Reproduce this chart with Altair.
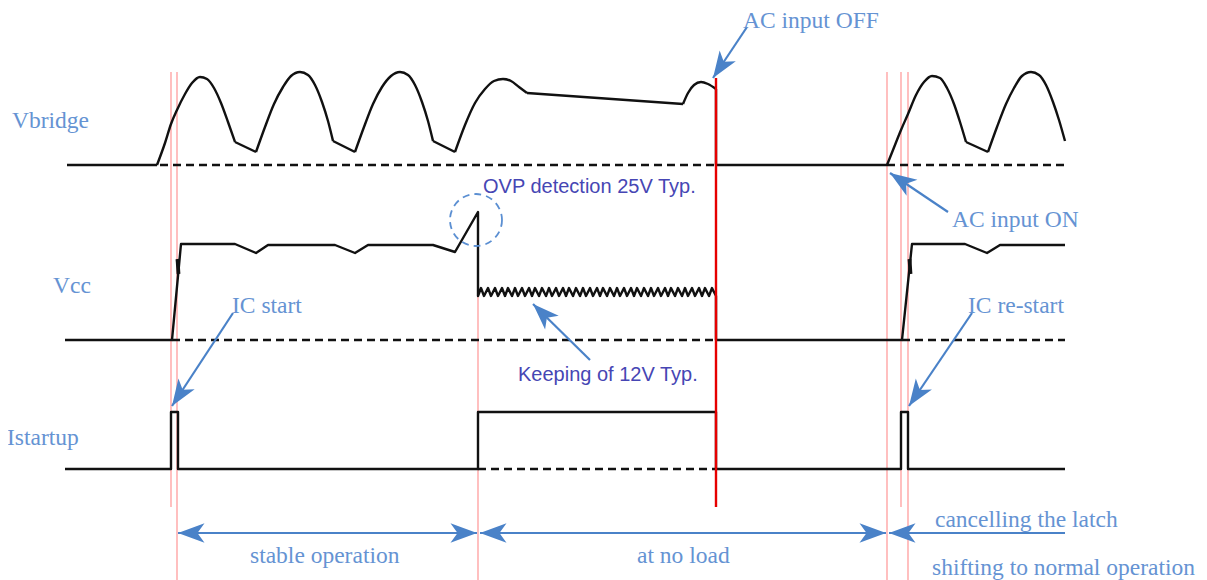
import altair as alt
import pandas as pd
import numpy as np

# ---------------- data (picture pixels) ----------------
# Vbridge: rounded half-wave arcs (smooth) joined by straight discharge segments
arc1_x = [157, 165, 171, 177, 185, 192, 200, 207, 214, 221, 228, 235]
arc1_y = [165, 143, 124, 110, 94, 83, 77, 79, 88, 103, 122, 142]
arc2_x = [256, 265, 274, 283, 291, 300, 308, 315, 322, 328, 333]
arc2_y = [152, 127, 104, 87, 76, 72, 75, 85, 102, 121, 141]
arc3_x = [355, 364, 373, 382, 391, 400, 408, 415, 422, 428, 433]
arc3_y = [152, 127, 104, 87, 76, 72, 75, 85, 102, 121, 141]
arc4_x = [455, 465, 475, 485, 494, 503, 511, 519, 527]
arc4_y = [152, 125, 103, 89, 81, 79, 81, 87, 93]
arc5_x = [683, 688, 694, 701, 708, 716]
arc5_y = [104, 93, 85, 82, 84, 89]
arc6_x = [887, 893, 901, 908, 916, 924, 932, 940, 947, 954, 960, 966]
arc6_y = [165, 150, 130, 114, 95, 82, 76, 78, 88, 104, 122, 142]
arc7_x = [988, 997, 1006, 1014, 1022, 1031, 1039, 1046, 1053, 1059, 1065]
arc7_y = [152, 127, 104, 88, 76, 72, 75, 85, 102, 120, 141]
# straight parts of Vbridge
vbl_x = [[67, 157], [235, 256], [333, 355], [433, 455], [527, 683], [716, 716, 887], [966, 988]]
vbl_y = [[165, 165], [142, 152], [141, 152], [141, 152], [93, 104], [89, 165, 165], [142, 152]]

# Vcc waveform
vcc1_x = [65, 172, 181, 235, 256, 268, 335, 355, 368, 433, 455, 478, 478]
vcc1_y = [340, 340, 244, 244, 253, 245, 245, 253, 245, 245, 252, 212, 296]
zig_low_x = [478, 484, 491, 498, 505, 512, 518, 525, 532, 539, 546, 552, 559, 566, 573, 580, 586, 593,
             600, 607, 614, 620, 627, 634, 641, 648, 654, 661, 668, 675, 682, 688, 695, 702, 709, 716]
zig_high_x = [481, 488, 495, 502, 508, 515, 522, 529, 535, 542, 549, 556, 563, 569, 576, 583, 590, 597,
              603, 610, 617, 624, 631, 637, 644, 651, 658, 665, 671, 678, 685, 692, 699, 705, 712]
zig_low_y = 296
zig_high_y = 288
vcc2_x = [716, 716, 902, 912, 965, 987, 1000, 1065]
vcc2_y = [296, 340, 340, 244, 244, 253, 245, 245]

# small thick spurs on Vcc rising edges
spur1_x = [177.5, 178.5]
spur1_y = [259, 274]
spur2_x = [909.5, 910.5]
spur2_y = [259, 274]

# Istartup waveform
ist_x = [65, 171, 171, 178, 178, 478, 478, 716, 716, 901, 901, 908, 908, 1065]
ist_y = [469, 469, 412, 412, 469, 469, 412, 412, 469, 469, 412, 412, 469, 469]

# dashed reference levels
dash_start = [160, 887, 172, 902, 478]
dash_end = [716, 1065, 716, 1065, 716]
dash_y = [165, 165, 340, 340, 469]

# red timing markers
red_x = [171, 177, 478, 887, 901, 908]
red_top = [72, 72, 212, 72, 72, 72]
red_bottom = [507, 580, 580, 580, 507, 580]
off_x = [716]
off_top = [78]
off_bottom = [507]

# blue arrow shafts (tail -> tip)
arr_x1 = [747, 948, 233, 972, 590, 178, 480, 889]
arr_y1 = [27, 212, 313, 313, 360, 533, 533, 533]
arr_x2 = [713, 890, 172, 909, 533, 477, 886, 1065]
arr_y2 = [78, 173, 406, 406, 304, 533, 533, 533]

# arrow heads: tip position and the point the arrow comes from
head_x = [713, 890, 172, 909, 533, 178, 477, 480, 886, 889]
head_y = [78, 173, 406, 406, 304, 533, 533, 533, 533, 533]
head_from_x = [747, 948, 233, 972, 590, 477, 178, 886, 480, 1065]
head_from_y = [27, 212, 313, 313, 360, 533, 533, 533, 533, 533]

# dashed circle around OVP peak
circ_x = [476]
circ_y = [220]

# labels
serif_text = ["Vbridge", "Vcc", "Istartup", "IC start", "IC re-start", "AC input OFF", "AC input ON",
              "stable operation", "at no load", "cancelling the latch", "shifting to normal operation"]
serif_x = [12, 53, 7, 232, 968, 743, 952, 250, 637, 935, 932]
serif_y = [128, 293, 445, 313, 313, 28, 227, 563, 563, 527, 575]
sans_text = ["OVP detection 25V Typ.", "Keeping of 12V Typ."]
sans_x = [483, 518]
sans_y = [193, 381]

# ---------------- build tables ----------------
def polyline(name, xs, ys):
    return pd.DataFrame({"seg": name, "ord": np.arange(len(xs)), "x": xs, "y": ys})

zig_x, zig_y = [], []
for i, lx in enumerate(zig_low_x):
    zig_x.append(lx)
    zig_y.append(zig_low_y)
    if i < len(zig_high_x):
        zig_x.append(zig_high_x[i])
        zig_y.append(zig_high_y)

arcs = pd.concat([polyline(f"a{i}", xs, ys) for i, (xs, ys) in enumerate([
    (arc1_x, arc1_y), (arc2_x, arc2_y), (arc3_x, arc3_y), (arc4_x, arc4_y),
    (arc5_x, arc5_y), (arc6_x, arc6_y), (arc7_x, arc7_y)])])
lines = pd.concat(
    [polyline(f"l{i}", xs, ys) for i, (xs, ys) in enumerate(zip(vbl_x, vbl_y))] + [
        polyline("vcc", vcc1_x + zig_x + vcc2_x, vcc1_y + zig_y + vcc2_y),
        polyline("ist", ist_x, ist_y),
    ])
spurs = pd.concat([polyline("s1", spur1_x, spur1_y), polyline("s2", spur2_x, spur2_y)])
dashes = pd.DataFrame({"x": dash_start, "x2": dash_end, "y": dash_y})
reds = pd.DataFrame({"x": red_x, "y": red_top, "y2": red_bottom})
offs = pd.DataFrame({"x": off_x, "y": off_top, "y2": off_bottom})
arrows = pd.DataFrame({"x": arr_x1, "y": arr_y1, "x2": arr_x2, "y2": arr_y2})
hx = np.array(head_x, float); hy = np.array(head_y, float)
dx = hx - np.array(head_from_x, float); dy = hy - np.array(head_from_y, float)
heads = pd.DataFrame({"x": hx, "y": hy,
                      "ang": np.mod(np.degrees(np.arctan2(dx, -dy)), 360.0)})
circ = pd.DataFrame({"x": circ_x, "y": circ_y})
serif = pd.DataFrame({"t": serif_text, "x": serif_x, "y": serif_y})
sans = pd.DataFrame({"t": sans_text, "x": sans_x, "y": sans_y})

# ---------------- chart ----------------
XS = alt.Scale(domain=[8, 1199], nice=False, zero=False)
YS = alt.Scale(domain=[8, 580], reverse=True, nice=False, zero=False)
X = alt.X("x:Q", scale=XS, axis=None)
Y = alt.Y("y:Q", scale=YS, axis=None)

INK = "#111111"
LW = 2.4
BLUE_TXT = "#6593d3"
BLUE_ARR = "#4a82c8"
PURPLE = "#4646b4"
HEAD = "M0,0 L-0.55,1.5 L0,1.1 L0.55,1.5 Z"

red_layer = alt.Chart(reds).mark_rule(color="#ff9595", strokeWidth=1.2).encode(x=X, y=Y, y2="y2:Q")
dash_layer = alt.Chart(dashes).mark_rule(color=INK, strokeWidth=LW, strokeDash=[8, 5]).encode(
    x=X, x2="x2:Q", y=Y)
arc_layer = alt.Chart(arcs).mark_line(color=INK, strokeWidth=LW, interpolate="monotone").encode(
    x=X, y=Y, detail="seg:N", order="ord:Q")
line_layer = alt.Chart(lines).mark_line(color=INK, strokeWidth=LW, strokeJoin="round").encode(
    x=X, y=Y, detail="seg:N", order="ord:Q")
spur_layer = alt.Chart(spurs).mark_line(color=INK, strokeWidth=3.8).encode(
    x=X, y=Y, detail="seg:N", order="ord:Q")
off_layer = alt.Chart(offs).mark_rule(color="#e60000", strokeWidth=2.4).encode(x=X, y=Y, y2="y2:Q")
arrow_layer = alt.Chart(arrows).mark_rule(color=BLUE_ARR, strokeWidth=2.2).encode(
    x=X, y=Y, x2="x2:Q", y2="y2:Q")
head_layer = alt.Chart(heads).mark_point(shape=HEAD, filled=True, size=1250, color=BLUE_ARR,
                                         opacity=1, strokeWidth=0).encode(
    x=X, y=Y, angle=alt.Angle("ang:Q", scale=None))
circ_layer = alt.Chart(circ).mark_point(shape="circle", size=2704, filled=False, color="#5b8fd2",
                                        opacity=1, strokeWidth=1.8, strokeDash=[7, 5]).encode(x=X, y=Y)
serif_layer = alt.Chart(serif).mark_text(font="Liberation Serif", fontSize=23.5, color=BLUE_TXT,
                                         align="left", baseline="alphabetic").encode(
    x=X, y=Y, text="t:N")
sans_layer = alt.Chart(sans).mark_text(font="Liberation Sans", fontSize=20, color=PURPLE,
                                       align="left", baseline="alphabetic").encode(
    x=X, y=Y, text="t:N")

chart = alt.layer(
    red_layer, dash_layer, arc_layer, line_layer, spur_layer, off_layer, circ_layer,
    arrow_layer, head_layer, serif_layer, sans_layer
).properties(
    width=1191, height=572, padding=0, background="white",
    autosize=alt.AutoSizeParams(type="none")
).configure_view(strokeWidth=0)

chart.save("out.html", embed_options={"renderer": "svg", "actions": False})
